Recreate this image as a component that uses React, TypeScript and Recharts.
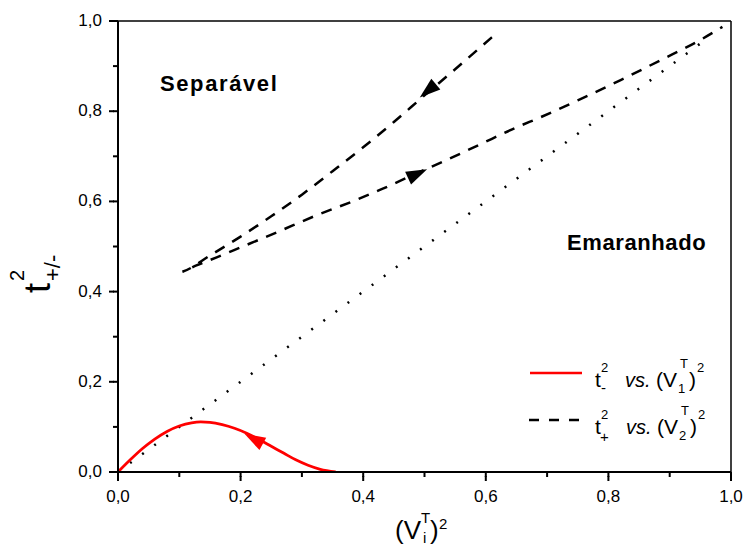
import React from 'react';
import { ComposedChart, Line, Scatter, XAxis, YAxis } from 'recharts';

// axis ticks, every 0.1, labelled every 0.2
const xTicks = [0, 0.1, 0.2, 0.3, 0.4, 0.5, 0.6, 0.7, 0.8, 0.9, 1.0];
const yTicks = [0, 0.1, 0.2, 0.3, 0.4, 0.5, 0.6, 0.7, 0.8, 0.9, 1.0];

// t-^2 vs (V1^T)^2
const tMinusCurve = [
    { x: 0, y: 0 },
    { x: 0.02, y: 0.027 },
    { x: 0.04, y: 0.052 },
    { x: 0.06, y: 0.073 },
    { x: 0.08, y: 0.09 },
    { x: 0.1, y: 0.102 },
    { x: 0.12, y: 0.109 },
    { x: 0.135, y: 0.111 },
    { x: 0.15, y: 0.11 },
    { x: 0.17, y: 0.105 },
    { x: 0.19, y: 0.097 },
    { x: 0.21, y: 0.086 },
    { x: 0.23, y: 0.072 },
    { x: 0.25, y: 0.057 },
    { x: 0.27, y: 0.042 },
    { x: 0.29, y: 0.027 },
    { x: 0.31, y: 0.015 },
    { x: 0.33, y: 0.006 },
    { x: 0.355, y: 0 }
];

// t+^2 vs (V2^T)^2 : upper branch going down, then lower branch going up
const tPlusCurve = [
    { x: 0.61, y: 0.964 },
    { x: 0.55, y: 0.893 },
    { x: 0.5, y: 0.835 },
    { x: 0.45, y: 0.776 },
    { x: 0.4, y: 0.72 },
    { x: 0.35, y: 0.667 },
    { x: 0.3, y: 0.615 },
    { x: 0.25, y: 0.567 },
    { x: 0.2, y: 0.522 },
    { x: 0.15, y: 0.48 },
    { x: 0.105, y: 0.444 },
    { x: 0.128, y: 0.458 },
    { x: 0.161, y: 0.476 },
    { x: 0.2, y: 0.498 },
    { x: 0.26, y: 0.532 },
    { x: 0.32, y: 0.567 },
    { x: 0.39, y: 0.604 },
    { x: 0.43, y: 0.627 },
    { x: 0.49, y: 0.664 },
    { x: 0.53, y: 0.688 },
    { x: 0.59, y: 0.726 },
    { x: 0.65, y: 0.764 },
    { x: 0.69, y: 0.787 },
    { x: 0.75, y: 0.824 },
    { x: 0.82, y: 0.869 },
    { x: 0.885, y: 0.913 },
    { x: 0.95, y: 0.958 },
    { x: 0.986, y: 0.987 }
];

// dotted diagonal
const diagonal = [
    { x: 0, y: 0 },
    { x: 0.965, y: 0.965 }
];

// arrow heads placed on the curves
const tMinusArrow = [{ x: 0.222, y: 0.073 }];
const tPlusArrowUpper = [{ x: 0.506, y: 0.846 }];
const tPlusArrowLower = [{ x: 0.488, y: 0.661 }];

const FONT = '"Liberation Sans", Arial, sans-serif';
const fmt = (v: number) => v.toFixed(1).replace('.', ',');
const isMajor = (v: number) => Math.round(v * 10) % 2 === 0;

// x,y arrive at the outer end of the (5px) library tick line
const BottomTick = (props: any) => {
    const { x, y, payload } = props;
    if (!isMajor(payload.value)) return <g />;
    return (
        <g>
            <rect x={x - 1} y={y - 1} width={2} height={5} fill="#000" />
            <text x={x} y={y + 25} textAnchor="middle" fontSize={17} fontFamily={FONT} fill="#000">
                {fmt(payload.value)}
            </text>
        </g>
    );
};

const LeftTick = (props: any) => {
    const { x, y, payload } = props;
    if (!isMajor(payload.value)) return <g />;
    return (
        <g>
            <rect x={x - 4} y={y - 1} width={5} height={2} fill="#000" />
            <text x={x - 11} y={y + 5} textAnchor="end" fontSize={17} fontFamily={FONT} fill="#000">
                {fmt(payload.value)}
            </text>
        </g>
    );
};

const arrowShape = (angle: number, color: string) => (props: any) => {
    const { cx, cy } = props;
    return (
        <polygon
            points="11,0 -10,-7 -10,7"
            transform={`translate(${cx},${cy}) rotate(${angle})`}
            fill={color}
        />
    );
};

export default function App() {
    return (
        <div style={{ position: 'absolute', left: 0, top: 0, width: 743, height: 553, background: '#fff' }}>
            <ComposedChart width={743} height={553} margin={{ top: 21, right: 12, bottom: 41, left: 58 }}>
                <XAxis
                    type="number"
                    dataKey="x"
                    domain={[0, 1]}
                    allowDataOverflow
                    ticks={xTicks}
                    interval={0}
                    height={40}
                    tickSize={5}
                    tickMargin={0}
                    tickLine={{ stroke: '#000', strokeWidth: 2 }}
                    axisLine={{ stroke: '#000', strokeWidth: 2 }}
                    tick={(p: any) => <BottomTick {...p} />}
                />
                <XAxis
                    xAxisId="top"
                    orientation="top"
                    type="number"
                    dataKey="x"
                    domain={[0, 1]}
                    allowDataOverflow
                    ticks={xTicks}
                    interval={0}
                    height={1}
                    mirror
                    tickSize={5}
                    tickLine={{ stroke: '#000', strokeWidth: 1.5 }}
                    axisLine={{ stroke: '#000', strokeWidth: 1.5 }}
                    tick={false}
                />
                <YAxis
                    type="number"
                    dataKey="y"
                    domain={[0, 1]}
                    allowDataOverflow
                    ticks={yTicks}
                    interval={0}
                    width={60}
                    tickSize={5}
                    tickMargin={0}
                    tickLine={{ stroke: '#000', strokeWidth: 2 }}
                    axisLine={{ stroke: '#000', strokeWidth: 2 }}
                    tick={(p: any) => <LeftTick {...p} />}
                />
                <YAxis
                    yAxisId="right"
                    orientation="right"
                    type="number"
                    dataKey="y"
                    domain={[0, 1]}
                    allowDataOverflow
                    ticks={yTicks}
                    interval={0}
                    width={1}
                    mirror
                    tickSize={5}
                    tickLine={{ stroke: '#000', strokeWidth: 1.5 }}
                    axisLine={{ stroke: '#000', strokeWidth: 1.5 }}
                    tick={false}
                />
                {/* invisible anchor so the frame axes get a scale */}
                <Line
                    data={diagonal}
                    xAxisId="top"
                    yAxisId="right"
                    dataKey="y"
                    stroke="none"
                    dot={false}
                    activeDot={false}
                    isAnimationActive={false}
                />
                <Line
                    data={diagonal}
                    dataKey="y"
                    type="linear"
                    stroke="#000"
                    strokeWidth={2.5}
                    strokeDasharray="2 13"
                    dot={false}
                    activeDot={false}
                    isAnimationActive={false}
                />
                <Line
                    data={tPlusCurve}
                    dataKey="y"
                    type="monotone"
                    stroke="#000"
                    strokeWidth={2.5}
                    strokeDasharray="11 9"
                    dot={false}
                    activeDot={false}
                    isAnimationActive={false}
                />
                <Line
                    data={tMinusCurve}
                    dataKey="y"
                    type="monotone"
                    stroke="#ff0000"
                    strokeWidth={2.8}
                    dot={false}
                    activeDot={false}
                    isAnimationActive={false}
                />
                <Scatter data={tMinusArrow} shape={arrowShape(209, '#ff0000')} isAnimationActive={false} />
                <Scatter data={tPlusArrowUpper} shape={arrowShape(140, '#000')} isAnimationActive={false} />
                <Scatter data={tPlusArrowLower} shape={arrowShape(-25, '#000')} isAnimationActive={false} />
            </ComposedChart>

            <svg
                width={743}
                height={553}
                style={{ position: 'absolute', left: 0, top: 0, pointerEvents: 'none' }}
                fontFamily={FONT}
            >
                <text x={160} y={91} fontSize={22} fontWeight="bold" letterSpacing={1.6}>Separável</text>
                <text x={567} y={250} fontSize={22} fontWeight="bold" letterSpacing={0.6}>Emaranhado</text>

                {/* x axis title */}
                <text fontSize={26} x={395} y={539}>(V</text>
                <text fontSize={15} x={421} y={523}>T</text>
                <text fontSize={15} x={423} y={543}>i</text>
                <text fontSize={26} x={430} y={539}>)</text>
                <text fontSize={15} x={439} y={529}>2</text>

                {/* y axis title */}
                <g transform="translate(50,293) rotate(-90)">
                    <text x={0} y={0} fontSize={36}>t</text>
                    <text x={12} y={-26} fontSize={20}>2</text>
                    <text x={12} y={10} fontSize={22}>+/-</text>
                </g>

                {/* legend */}
                <line x1={530} x2={582} y1={373} y2={373} stroke="#ff0000" strokeWidth={2.5} />
                <text x={595} y={387} fontSize={21}>t</text>
                <text x={601} y={372} fontSize={13}>2</text>
                <text x={601} y={393} fontSize={15}>-</text>
                <text x={625} y={387} fontSize={20} fontStyle="italic">vs.</text>
                <text x={656} y={387} fontSize={21}>(V</text>
                <text x={680} y={368} fontSize={13}>T</text>
                <text x={678} y={393} fontSize={13}>1</text>
                <text x={689} y={387} fontSize={21}>)</text>
                <text x={697} y={372} fontSize={13}>2</text>

                <line x1={529} x2={582} y1={420} y2={420} stroke="#000" strokeWidth={2.5} strokeDasharray="10 10" />
                <text x={595} y={434} fontSize={21}>t</text>
                <text x={601} y={419} fontSize={13}>2</text>
                <text x={600} y={442} fontSize={15}>+</text>
                <text x={626} y={434} fontSize={20} fontStyle="italic">vs.</text>
                <text x={657} y={434} fontSize={21}>(V</text>
                <text x={681} y={415} fontSize={13}>T</text>
                <text x={679} y={440} fontSize={13}>2</text>
                <text x={690} y={434} fontSize={21}>)</text>
                <text x={698} y={419} fontSize={13}>2</text>
            </svg>
        </div>
    );
}
